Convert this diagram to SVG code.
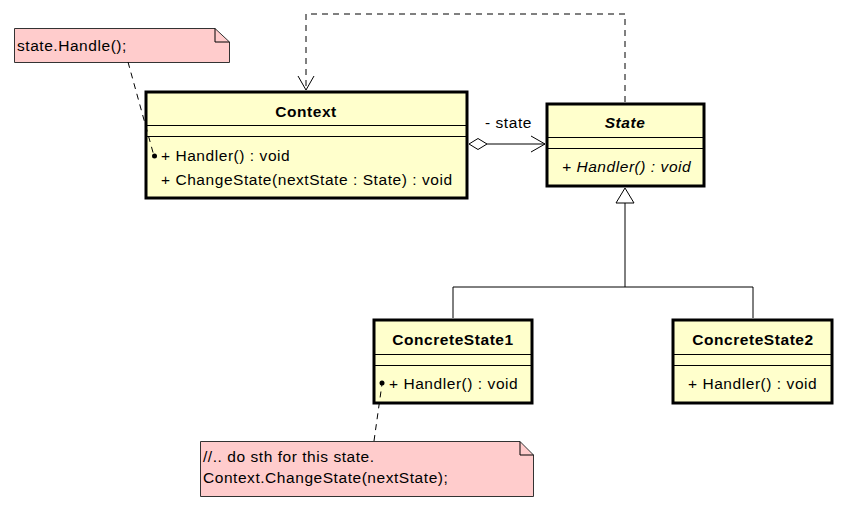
<svg xmlns="http://www.w3.org/2000/svg" width="847" height="512" viewBox="0 0 847 512">
<style>
text{font-family:"Liberation Sans",Arial,sans-serif;font-size:15.5px;letter-spacing:0.55px;fill:#000}
.b{font-weight:bold}
.i{font-style:italic}
.bi{font-weight:bold;font-style:italic}
.cls{fill:#FFFFCC;stroke:#000;stroke-width:3}
.sep{stroke:#000;stroke-width:1}
.note{fill:#FFCCCC;stroke:#333;stroke-width:1}
.ln{fill:none;stroke:#000;stroke-width:1}
.dash{fill:none;stroke:#000;stroke-width:1;stroke-dasharray:6,5}
</style>
<rect width="847" height="512" fill="#fff"/>
<g id="note1">
<path class="note" d="M14.5,28.5 H215 L229.5,42 V62.5 H14.5 Z"/>
<path class="ln" d="M215,28.5 V42 H229.5" stroke="#333"/>
<text x="17" y="51">state.Handle();</text>
</g>
<g id="Context">
<rect class="cls" x="146" y="92" width="321" height="106"/>
<line class="sep" x1="146" y1="125.5" x2="467" y2="125.5"/>
<line class="sep" x1="146" y1="136.5" x2="467" y2="136.5"/>
<text class="b" x="306" y="117" text-anchor="middle">Context</text>
<text x="161" y="161">+ Handler() : void</text>
<text x="161" y="185">+ ChangeState(nextState : State) : void</text>
</g>
<g id="State">
<rect class="cls" x="547" y="104" width="157" height="82"/>
<line class="sep" x1="547" y1="137.5" x2="704" y2="137.5"/>
<line class="sep" x1="547" y1="148.5" x2="704" y2="148.5"/>
<text class="bi" x="625" y="128" text-anchor="middle">State</text>
<text class="i" x="562" y="172">+ Handler() : void</text>
</g>
<g id="ConcreteState1">
<rect class="cls" x="374" y="320" width="158" height="83"/>
<line class="sep" x1="374" y1="354.5" x2="532" y2="354.5"/>
<line class="sep" x1="374" y1="365.5" x2="532" y2="365.5"/>
<text class="b" x="453" y="345" text-anchor="middle">ConcreteState1</text>
<text x="389" y="389">+ Handler() : void</text>
</g>
<g id="ConcreteState2">
<rect class="cls" x="673" y="320" width="159" height="83"/>
<line class="sep" x1="673" y1="354.5" x2="832" y2="354.5"/>
<line class="sep" x1="673" y1="365.5" x2="832" y2="365.5"/>
<text class="b" x="753" y="345" text-anchor="middle">ConcreteState2</text>
<text x="688" y="389">+ Handler() : void</text>
</g>
<g id="note2">
<path class="note" d="M200.5,441.5 H520 L533.5,455 V496.5 H200.5 Z"/>
<path class="ln" d="M520,441.5 V455 H533.5" stroke="#333"/>
<text x="203" y="462">//.. do sth for this state.</text>
<text x="203" y="483">Context.ChangeState(nextState);</text>
</g>
<g id="connectors">
<path class="dash" d="M625,102 V14 H306 V90"/>
<path class="ln" d="M298,76 L306,90 L314,76"/>
<path class="ln" d="M487,144 H545"/>
<path class="ln" d="M469,144 L478,138.5 L487,144 L478,149.5 Z" fill="#fff"/>
<path class="ln" d="M531,136 L545,144 L531,152"/>
<text x="485" y="128">- state</text>
<path class="ln" d="M625,203 V287 M453,287 H753 M453,287 V318 M753,287 V318"/>
<path d="M625,188 L616,203 L634,203 Z" fill="#fff" stroke="#000" stroke-width="1"/>
<path class="dash" d="M128,62 L154,156"/>
<circle cx="154.5" cy="156" r="2.5" fill="#000"/>
<path class="dash" d="M374,441 L382,384"/>
<circle cx="382" cy="383" r="2.5" fill="#000"/>
</g>
</svg>
